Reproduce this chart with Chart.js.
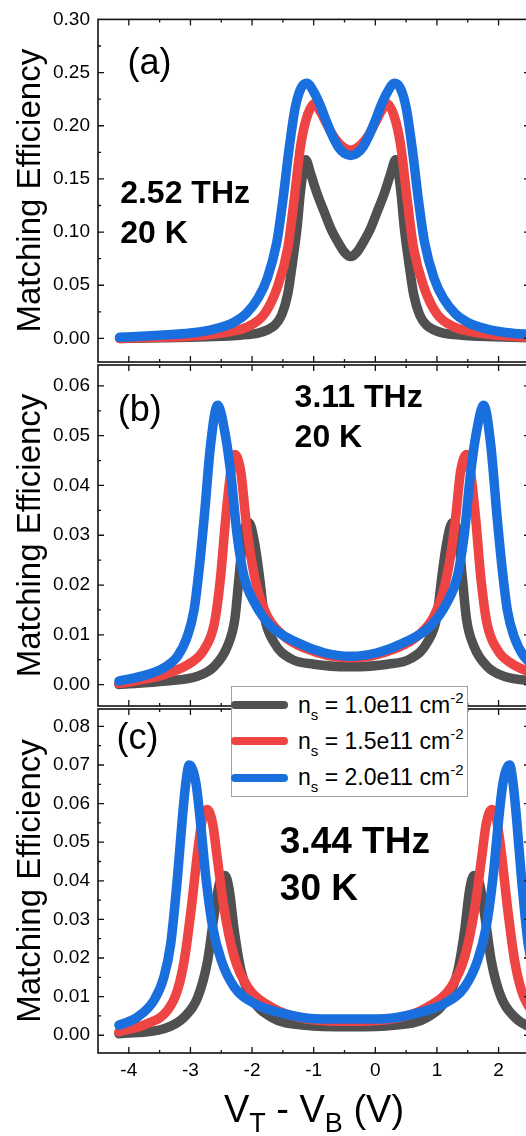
<!DOCTYPE html>
<html>
<head>
<meta charset="utf-8">
<title>Matching efficiency vs V_T - V_B</title>
<script src="https://cdn.jsdelivr.net/npm/chart.js@4.4.1/dist/chart.umd.min.js"></script>
<style>
  html, body { margin: 0; padding: 0; background: #fff; }
  body { width: 526px; height: 1136px; overflow: hidden; position: relative; }
  canvas { position: absolute; left: 0; top: 0; }
  #legend {
    position: absolute; left: 231px; top: 686px; width: 237px; height: 111px;
    box-sizing: border-box; border: 1px solid #a0a0a0; background: #fff;
    font: 23px "Liberation Sans", Arial, sans-serif; color: #000;
  }
  #legend .row { position: absolute; left: -1px; height: 36px; display: flex; align-items: center; white-space: nowrap; }
  #legend .swatch { display: inline-block; width: 57px; height: 8px; border-radius: 4px; margin-right: 10px; }
  #legend sub { font-size: 15px; vertical-align: baseline; position: relative; top: 7px; }
  #legend sup { font-size: 15px; vertical-align: baseline; position: relative; top: -10px; }
</style>
</head>
<body>
<canvas id="panelA" width="560" height="1136"></canvas>
<canvas id="panelB" width="560" height="1136"></canvas>
<canvas id="panelC" width="560" height="1136"></canvas>
<div id="legend"></div>
<script>
// sheet densities (legend) and line colours
const densities = ['1.0e11', '1.5e11', '2.0e11'];
const colors = ['#505050', '#ef4444', '#1a6fdf'];

// x ticks shared by all panels (V_T - V_B, volts)
const xTicks = [-4, -3, -2, -1, 0, 1, 2];

// (a) 2.52 THz, 20 K
const aTicks = [0, 0.05, 0.10, 0.15, 0.20, 0.25, 0.30];
const a10V = [-4.15, -3.5, -3.0, -2.5, -2.2, -1.9, -1.75, -1.64, -1.52, -1.42, -1.34, -1.27, -1.22, -1.16, -1.13, -1.05, -0.95, -0.83, -0.72, -0.61, -0.50, -0.40,
  -0.30, -0.19, -0.08, 0.03, 0.15, 0.25, 0.33, 0.36, 0.42, 0.47, 0.54, 0.62, 0.72, 0.84, 0.95, 1.10, 1.40, 1.70, 2.20, 2.70, 3.35];
const a10E = [0.000, 0.0005, 0.001, 0.002, 0.003, 0.005, 0.008, 0.012, 0.022, 0.042, 0.073, 0.104, 0.135, 0.162, 0.168, 0.155, 0.137, 0.119, 0.103, 0.091, 0.081, 0.077,
  0.081, 0.091, 0.103, 0.119, 0.137, 0.155, 0.168, 0.162, 0.135, 0.104, 0.073, 0.042, 0.022, 0.012, 0.008, 0.005, 0.003, 0.002, 0.001, 0.0005, 0.000];
const a15V = [-4.15, -3.5, -3.0, -2.6, -2.3, -2.07, -1.80, -1.59, -1.42, -1.32, -1.21, -1.10, -0.99, -0.90, -0.80, -0.70, -0.60, -0.50, -0.40,
  -0.30, -0.20, -0.10, 0.00, 0.10, 0.19, 0.30, 0.41, 0.52, 0.62, 0.79, 1.00, 1.27, 1.50, 1.80, 2.20, 2.70, 3.35];
const a15E = [0.000, 0.001, 0.002, 0.004, 0.007, 0.011, 0.023, 0.048, 0.085, 0.129, 0.182, 0.210, 0.221, 0.214, 0.203, 0.192, 0.184, 0.179, 0.177,
  0.179, 0.184, 0.192, 0.203, 0.214, 0.221, 0.210, 0.182, 0.129, 0.085, 0.048, 0.023, 0.011, 0.007, 0.004, 0.002, 0.001, 0.000];
const a20V = [-4.15, -3.5, -3.0, -2.6, -2.3, -2.1, -1.9, -1.75, -1.6, -1.5, -1.4, -1.3, -1.2, -1.11, -1.0, -0.9, -0.8, -0.7, -0.6, -0.5, -0.4,
  -0.3, -0.2, -0.1, 0.0, 0.1, 0.2, 0.31, 0.4, 0.5, 0.6, 0.7, 0.8, 0.95, 1.1, 1.3, 1.5, 1.8, 2.2, 2.7, 3.35];
const a20E = [0.001, 0.003, 0.005, 0.009, 0.015, 0.023, 0.038, 0.057, 0.090, 0.130, 0.178, 0.217, 0.236, 0.240, 0.232, 0.220, 0.205, 0.191, 0.180, 0.174, 0.172,
  0.174, 0.180, 0.191, 0.205, 0.220, 0.232, 0.240, 0.236, 0.217, 0.178, 0.130, 0.090, 0.057, 0.038, 0.023, 0.015, 0.009, 0.005, 0.003, 0.001];

// (b) 3.11 THz, 20 K
const bTicks = [0, 0.01, 0.02, 0.03, 0.04, 0.05, 0.06];
const b10V = [-4.16, -3.40, -2.88, -2.61, -2.40, -2.28, -2.21, -2.13, -2.05, -1.96, -1.88, -1.80, -1.64, -1.37, -1.00, -0.40,
  0.20, 0.57, 0.84, 1.00, 1.08, 1.16, 1.25, 1.33, 1.41, 1.48, 1.60, 1.81, 2.08, 2.60, 3.36];
const b10E = [0.0000, 0.0007, 0.0017, 0.0037, 0.0077, 0.0131, 0.0217, 0.0311, 0.0325, 0.0285, 0.0217, 0.0137, 0.0084, 0.0052, 0.0041, 0.0036,
  0.0041, 0.0052, 0.0084, 0.0137, 0.0217, 0.0285, 0.0325, 0.0311, 0.0217, 0.0131, 0.0077, 0.0037, 0.0017, 0.0007, 0.0000];
const b15V = [-4.16, -3.70, -3.43, -2.99, -2.78, -2.61, -2.51, -2.43, -2.34, -2.28, -2.18, -2.10, -2.02, -1.91, -1.75, -1.48, -1.10, -0.75, -0.40,
  -0.05, 0.30, 0.68, 0.95, 1.11, 1.22, 1.30, 1.38, 1.48, 1.54, 1.63, 1.71, 1.81, 1.98, 2.19, 2.63, 2.90, 3.36];
const b15E = [0.0002, 0.0012, 0.0020, 0.0044, 0.0070, 0.0124, 0.0217, 0.0331, 0.0432, 0.0462, 0.0425, 0.0331, 0.0258, 0.0191, 0.0137, 0.0097, 0.0071, 0.0058, 0.0054,
  0.0058, 0.0071, 0.0097, 0.0137, 0.0191, 0.0258, 0.0331, 0.0425, 0.0462, 0.0432, 0.0331, 0.0217, 0.0124, 0.0070, 0.0044, 0.0020, 0.0012, 0.0002];
const b20V = [-4.16, -3.70, -3.43, -3.21, -3.05, -2.94, -2.86, -2.78, -2.67, -2.56, -2.43, -2.34, -2.24, -2.13, -1.96, -1.69, -1.26, -0.83, -0.40,
  0.03, 0.46, 0.89, 1.16, 1.33, 1.44, 1.54, 1.63, 1.76, 1.87, 1.98, 2.06, 2.14, 2.25, 2.41, 2.63, 2.90, 3.36];
const b20E = [0.0007, 0.0020, 0.0034, 0.0057, 0.0097, 0.0151, 0.0231, 0.0331, 0.0485, 0.0561, 0.0499, 0.0418, 0.0298, 0.0217, 0.0164, 0.0117, 0.0084, 0.0064, 0.0057,
  0.0064, 0.0084, 0.0117, 0.0164, 0.0217, 0.0298, 0.0418, 0.0499, 0.0561, 0.0485, 0.0331, 0.0231, 0.0151, 0.0097, 0.0057, 0.0034, 0.0020, 0.0007];

// (c) 3.44 THz, 30 K
const cTicks = [0, 0.01, 0.02, 0.03, 0.04, 0.05, 0.06, 0.07, 0.08];
const c10V = [-4.16, -3.43, -3.10, -2.88, -2.72, -2.62, -2.53, -2.44, -2.37, -2.29, -2.18, -2.02, -1.69, -1.15, -0.42,
  0.31, 0.85, 1.18, 1.34, 1.45, 1.53, 1.60, 1.69, 1.78, 1.88, 2.04, 2.26, 2.59, 3.32];
const c10E = [0.0004, 0.0017, 0.0047, 0.0099, 0.0194, 0.0306, 0.0393, 0.0414, 0.0376, 0.0272, 0.0168, 0.0099, 0.0047, 0.0026, 0.0022,
  0.0026, 0.0047, 0.0099, 0.0168, 0.0272, 0.0376, 0.0414, 0.0393, 0.0306, 0.0194, 0.0099, 0.0047, 0.0017, 0.0004];
const c15V = [-4.16, -3.70, -3.37, -3.21, -3.10, -2.99, -2.88, -2.80, -2.73, -2.64, -2.56, -2.45, -2.29, -2.07, -1.69, -1.15, -0.42,
  0.31, 0.85, 1.23, 1.45, 1.61, 1.72, 1.80, 1.89, 1.96, 2.04, 2.15, 2.26, 2.37, 2.53, 2.86, 3.32];
const c15E = [0.0009, 0.0030, 0.0065, 0.0117, 0.0194, 0.0324, 0.0479, 0.0565, 0.0585, 0.0548, 0.0453, 0.0324, 0.0203, 0.0125, 0.0073, 0.0043, 0.0036,
  0.0043, 0.0073, 0.0125, 0.0203, 0.0324, 0.0453, 0.0548, 0.0585, 0.0565, 0.0479, 0.0324, 0.0194, 0.0117, 0.0065, 0.0030, 0.0009];
const c20V = [-4.16, -3.86, -3.59, -3.43, -3.32, -3.21, -3.13, -3.07, -3.02, -2.91, -2.83, -2.75, -2.64, -2.50, -2.29, -1.96, -1.48, -0.99, -0.42,
  0.15, 0.64, 1.12, 1.45, 1.66, 1.80, 1.91, 1.99, 2.07, 2.18, 2.23, 2.29, 2.37, 2.48, 2.59, 2.75, 3.02, 3.32];
const c20E = [0.0026, 0.0047, 0.0091, 0.0151, 0.0237, 0.0410, 0.0565, 0.0660, 0.0700, 0.0652, 0.0540, 0.0410, 0.0281, 0.0194, 0.0125, 0.0082, 0.0056, 0.0043, 0.0042,
  0.0043, 0.0056, 0.0082, 0.0125, 0.0194, 0.0281, 0.0410, 0.0540, 0.0652, 0.0700, 0.0660, 0.0565, 0.0410, 0.0237, 0.0151, 0.0091, 0.0047, 0.0026];

const FONT = '"Liberation Sans", Arial, sans-serif';
Chart.defaults.font.family = FONT;
Chart.defaults.color = '#000';

const pts = (v, e) => v.map((x, i) => ({ x: x, y: e[i] }));

// midpoints between major ticks, kept inside the axis range
function minors(major, lo, hi) {
  const step = major[1] - major[0];
  const out = [];
  [major[0] - step, ...major].forEach(v => {
    const m = v + step / 2;
    if (m > lo + 1e-9 && m < hi - 1e-9) out.push(m);
  });
  return out;
}

// box frame with inward major/minor ticks on all four sides
const frameTicks = {
  id: 'frameTicks',
  afterDraw(chart) {
    const { ctx, chartArea: ca, scales: { x, y } } = chart;
    ctx.save();
    ctx.strokeStyle = '#111';
    ctx.lineWidth = 1.6;
    ctx.strokeRect(ca.left, ca.top, ca.right - ca.left, ca.bottom - ca.top);
    ctx.lineWidth = 1.3;
    const xs = [[xTicks, 6], [minors(xTicks, x.min, x.max), 3]];
    xs.forEach(([vals, len]) => vals.forEach(v => {
      const p = x.getPixelForValue(v);
      if (p <= ca.left || p >= ca.right) return;
      ctx.beginPath();
      ctx.moveTo(p, ca.bottom); ctx.lineTo(p, ca.bottom - len);
      ctx.moveTo(p, ca.top); ctx.lineTo(p, ca.top + len);
      ctx.stroke();
    }));
    const yMajor = y.ticks.map(t => t.value);
    const ys = [[yMajor, 6], [minors(yMajor, y.min, y.max), 3]];
    ys.forEach(([vals, len]) => vals.forEach(v => {
      const p = y.getPixelForValue(v);
      if (p <= ca.top || p >= ca.bottom) return;
      ctx.beginPath();
      ctx.moveTo(ca.left, p); ctx.lineTo(ca.left + len, p);
      ctx.moveTo(ca.right, p); ctx.lineTo(ca.right - len, p);
      ctx.stroke();
    }));
    ctx.restore();
  }
};

// panel letters and frequency / temperature notes, placed in data units
const panelNotes = {
  id: 'panelNotes',
  afterDraw(chart, args, opts) {
    const { ctx, scales: { x, y } } = chart;
    ctx.save();
    ctx.fillStyle = '#000';
    ctx.textAlign = 'left';
    ctx.textBaseline = 'alphabetic';
    (opts.items || []).forEach(it => {
      ctx.font = it.font + ' ' + FONT;
      ctx.fillText(it.text, x.getPixelForValue(it.x), y.getPixelForValue(it.y));
    });
    ctx.restore();
  }
};

// "V_T - V_B (V)" axis title with subscripts
const xTitle = {
  id: 'xTitle',
  afterDraw(chart, args, opts) {
    if (!opts.display) return;
    const { ctx, chartArea: ca } = chart;
    const parts = [['V', 38, 0], ['T', 27, 10], [' - V', 38, 0], ['B', 27, 10], [' (V)', 38, 0]];
    ctx.save();
    ctx.fillStyle = '#000';
    ctx.textBaseline = 'alphabetic';
    let total = 0;
    parts.forEach(p => { ctx.font = p[1] + 'px ' + FONT; total += ctx.measureText(p[0]).width; });
    let cx = (ca.left + ca.right) / 2 - total / 2;
    const base = ca.bottom + 69;
    parts.forEach(p => {
      ctx.font = p[1] + 'px ' + FONT;
      ctx.fillText(p[0], cx, base + p[2]);
      cx += ctx.measureText(p[0]).width;
    });
    ctx.restore();
  }
};

function series(v10, e10, v15, e15, v20, e20) {
  const sets = [[v10, e10], [v15, e15], [v20, e20]];
  return sets.map((s, i) => ({
    label: 'n_s = ' + densities[i] + ' cm^-2',
    data: pts(s[0], s[1]),
    borderColor: colors[i],
    backgroundColor: colors[i],
    borderWidth: 9.5,
    pointRadius: 0,
    fill: false,
    cubicInterpolationMode: 'monotone',
    borderCapStyle: 'round',
    borderJoinStyle: 'round',
    order: 3 - i
  }));
}

function panel(id, datasets, yMin, yMax, yTicks, padTop, padBottom, showX, notes) {
  return new Chart(document.getElementById(id), {
    type: 'line',
    data: { datasets: datasets },
    options: {
      responsive: false,
      animation: false,
      events: [],
      layout: { padding: { left: 0, right: 30, top: padTop, bottom: padBottom } },
      plugins: {
        legend: { display: false },
        tooltip: { enabled: false },
        panelNotes: { items: notes },
        xTitle: { display: showX }
      },
      scales: {
        x: {
          type: 'linear',
          min: -4.5,
          max: 2.51,
          afterBuildTicks: s => { s.ticks = xTicks.map(v => ({ value: v })); },
          afterFit: s => { s.height = showX ? 83 : 0; },
          grid: { display: false, drawTicks: false },
          border: { display: false },
          ticks: { display: showX, padding: 6, font: { size: 19 }, callback: v => String(v) }
        },
        y: {
          min: yMin,
          max: yMax,
          afterBuildTicks: s => { s.ticks = yTicks.map(v => ({ value: v })); },
          afterFit: s => { s.width = 98; },
          grid: { display: false, drawTicks: false },
          border: { display: false },
          ticks: { padding: 8, font: { size: 19 }, callback: v => v.toFixed(2) },
          title: { display: true, text: 'Matching Efficiency', font: { size: 33 }, padding: { top: 11, bottom: 0 } }
        }
      }
    },
    plugins: [frameTicks, panelNotes, xTitle]
  });
}

panel('panelA', series(a10V, a10E, a15V, a15E, a20V, a20E), -0.0222, 0.30, aTicks, 16, 1136 - 362, false, [
  { text: '(a)', x: -4.02, y: 0.249, font: '36px' },
  { text: '2.52 THz', x: -4.14, y: 0.127, font: 'bold 32px' },
  { text: '20 K', x: -4.14, y: 0.0897, font: 'bold 32px' }
]);

panel('panelB', series(b10V, b10E, b15V, b15E, b20V, b20E), -0.0043, 0.0642, bTicks, 365, 1136 - 706, false, [
  { text: '(b)', x: -4.18, y: 0.0530, font: '36px' },
  { text: '3.11 THz', x: -1.31, y: 0.0558, font: 'bold 32px' },
  { text: '20 K', x: -1.31, y: 0.0478, font: 'bold 32px' }
]);

const chartC = panel('panelC', series(c10V, c10E, c15V, c15E, c20V, c20E), -0.0046, 0.0845, cTicks, 709, 0, true, [
  { text: '(c)', x: -4.20, y: 0.0741, font: '36px' },
  { text: '3.44 THz', x: -1.55, y: 0.0471, font: 'bold 37px' },
  { text: '30 K', x: -1.55, y: 0.0350, font: 'bold 37px' }
]);

// legend built from the panel (c) datasets
const legendBox = document.getElementById('legend');
chartC.data.datasets.forEach((ds, i) => {
  const row = document.createElement('div');
  row.className = 'row';
  row.style.top = (i * 36.3) + 'px';
  const sw = document.createElement('span');
  sw.className = 'swatch';
  sw.style.background = ds.borderColor;
  const tx = document.createElement('span');
  tx.innerHTML = 'n<sub>s</sub> = ' + densities[i] + ' cm<sup>-2</sup>';
  row.append(sw, tx);
  legendBox.append(row);
});
</script>
</body>
</html>
